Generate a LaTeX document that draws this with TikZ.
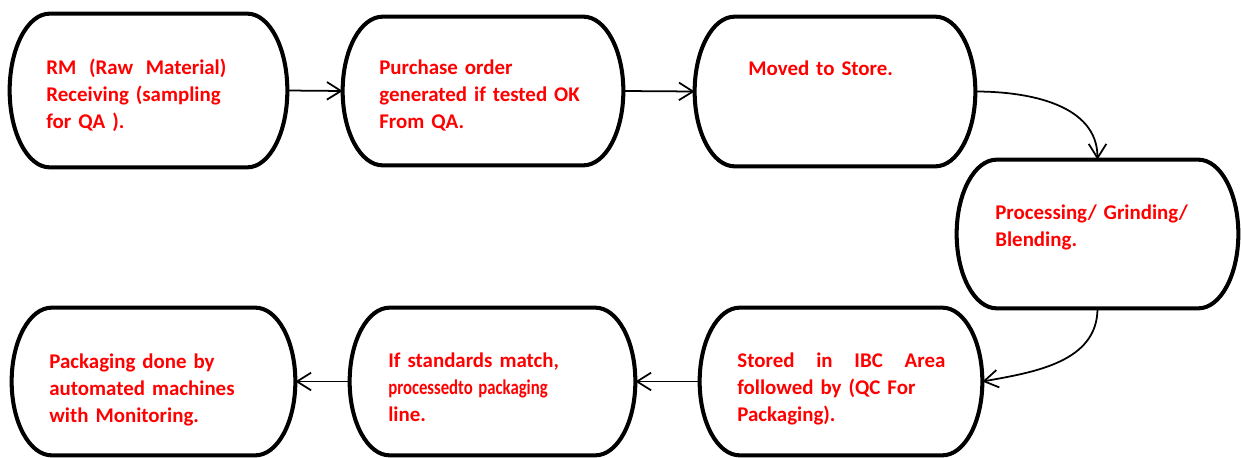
\documentclass[tikz,border=0pt]{standalone}
\usepackage{fontspec}
\setmainfont{Carlito}
\usepackage{graphicx}
\usetikzlibrary{arrows.meta,calc}

\begin{document}
\begin{tikzpicture}[
    stagebox/.style={minimum width=5.6cm, minimum height=2.96cm, inner sep=0pt},
    stageline/.style={line width=2.3pt},
    stagetext/.style={anchor=base west, inner sep=0pt, align=left, text=red,
        font=\fontsize{11.9}{15.6}\selectfont\bfseries},
    flowarrow/.style={line width=1pt, -{Straight Barb[length=8pt,width=10pt]}}
  ]

    \useasboundingbox (0,0) rectangle (24.82,9.14);

    \node[stagebox, minimum width=5.54cm, minimum height=3.06cm] (raw) at (2.97,7.33) {};
    \node[stagebox] (order) at (9.66,7.32) {};
    \node[stagebox, minimum height=2.98cm] (store) at (16.70,7.31) {};
    \node[stagebox, minimum width=5.62cm] (grind) at (21.95,4.46) {};
    \node[stagebox, minimum width=5.64cm, minimum height=2.94cm] (ibc) at (16.82,1.51) {};
    \node[stagebox, minimum width=5.7cm, minimum height=2.94cm] (match) at (9.85,1.51) {};
    \node[stagebox, minimum width=5.66cm, minimum height=2.94cm] (pack) at (3.07,1.51) {};

    \foreach \b in {raw, order, store, grind, ibc, match, pack} {
        \draw[stageline] let \p1 = (\b.north), \p2 = (\b.south), \n1 = {(\y1-\y2)/2} in
            ([xshift=0.8cm]\b.north west) -- ([xshift=-0.8cm]\b.north east)
            arc[start angle=90, end angle=-90, x radius=0.8cm, y radius=\n1]
            -- ([xshift=0.8cm]\b.south west)
            arc[start angle=270, end angle=90, x radius=0.8cm, y radius=\n1] -- cycle;
    }

    \node[stagetext, text width=3.6cm] (rawtext) at (0.92,7.66)
        {\hbox to 3.6cm{RM \hfill(Raw \hfill Material)}\\ Receiving (sampling\\ for QA ).};
    \node[stagetext, text width=4.2cm] (ordertext) at (7.58,7.66)
        {Purchase order\\ generated if tested OK\\ From QA.};
    \node[stagetext, text width=4cm] (storetext) at (14.96,7.64) {Moved to Store.};
    \node[stagetext, text width=4.4cm] (grindtext) at (19.90,4.76)
        {Processing/ Grinding/\\ Blending.};
    \node[stagetext, text width=4.16cm] (ibctext) at (14.74,1.80)
        {\hbox to 4.16cm{Stored \hfill in \hfill IBC \hfill Area}\\ followed by (QC For\\ Packaging).};
    \node[stagetext, text width=4.2cm] (matchtext) at (7.76,1.80)
        {If standards match,\\ \scalebox{0.8}[1]{processedto packaging}\\ line.};
    \node[stagetext, text width=4.5cm] (packtext) at (0.98,1.78)
        {Packaging done by\\ automated machines\\ with Monitoring.};

    \draw[flowarrow] (raw.east) -- (order.west);
    \draw[flowarrow] (order.east) -- (store.west);
    \draw[flowarrow] (store.east) to[out=0, in=90] (grind.north);
    \draw[flowarrow] (grind.south) to[out=-90, in=10] (ibc.east);
    \draw[flowarrow] (ibc.west) -- (match.east);
    \draw[flowarrow] (match.west) -- (pack.east);

\end{tikzpicture}
\end{document}
